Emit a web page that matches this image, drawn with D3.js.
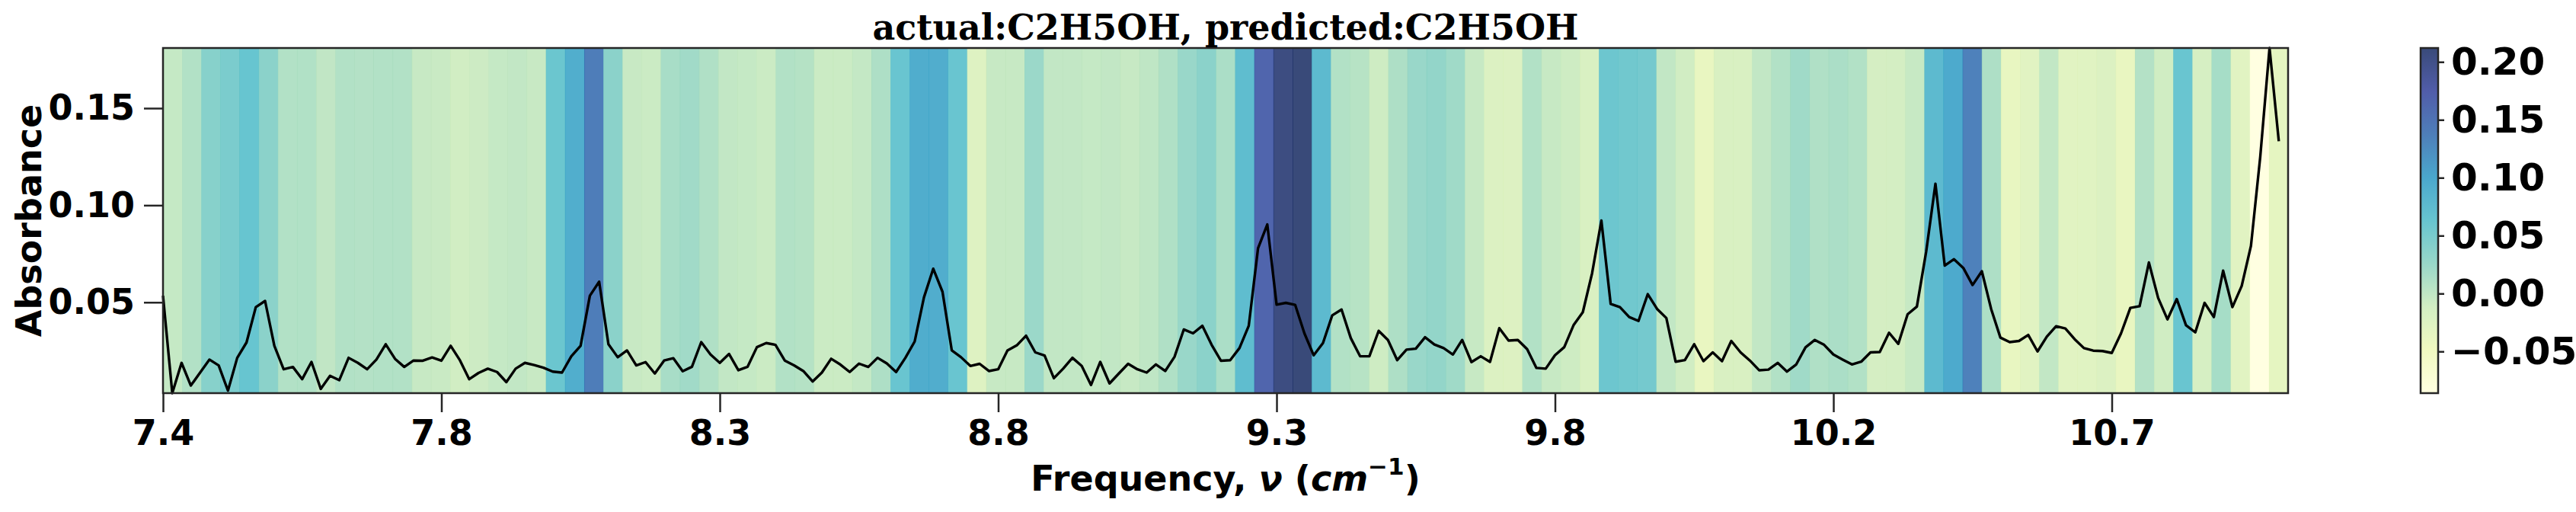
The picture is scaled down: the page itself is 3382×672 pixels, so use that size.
<!DOCTYPE html>
<html>
<head>
<meta charset="utf-8">
<script src="https://cdn.jsdelivr.net/npm/d3@7"></script>
<style>
  body { margin: 0; background: #fff; }
  svg { display: block; }
</style>
</head>
<body>
<svg id="chart" width="3382" height="672"></svg>
<script>
// spectrum (one value per sample)
const absorbance = [
  0.0534, 0.0032, 0.0188, 0.0071, 0.0138, 0.0205, 0.0175, 0.0045, 0.0214, 0.0293,
  0.0475, 0.0507, 0.0276, 0.0155, 0.0167, 0.0104, 0.0193, 0.0054, 0.0121, 0.0099,
  0.0214, 0.0188, 0.0155, 0.0205, 0.0284, 0.0209, 0.0167, 0.0200, 0.0199, 0.0216,
  0.0199, 0.0276, 0.0201, 0.0104, 0.0136, 0.0158, 0.0141, 0.0089, 0.0158, 0.0188,
  0.0177, 0.0163, 0.0143, 0.0138, 0.0222, 0.0276, 0.0534, 0.0606, 0.0284, 0.0217,
  0.0252, 0.0175, 0.0192, 0.0133, 0.0200, 0.0212, 0.0145, 0.0168, 0.0295, 0.0231,
  0.0188, 0.0234, 0.0150, 0.0168, 0.0269, 0.0290, 0.0281, 0.0200, 0.0175, 0.0146,
  0.0092, 0.0138, 0.0209, 0.0179, 0.0141, 0.0184, 0.0167, 0.0214, 0.0185, 0.0141,
  0.0214, 0.0298, 0.0525, 0.0673, 0.0554, 0.0252, 0.0217, 0.0172, 0.0183, 0.0146,
  0.0155, 0.0252, 0.0278, 0.0328, 0.0242, 0.0226, 0.0109, 0.0158, 0.0214, 0.0172,
  0.0074, 0.0193, 0.0082, 0.0133, 0.0183, 0.0155, 0.0138, 0.0180, 0.0146, 0.0219,
  0.0360, 0.0340, 0.0379, 0.0281, 0.0199, 0.0202, 0.0264, 0.0379, 0.0778, 0.0901,
  0.0488, 0.0497, 0.0487, 0.0340, 0.0227, 0.0290, 0.0433, 0.0463, 0.0315, 0.0222,
  0.0222, 0.0353, 0.0306, 0.0202, 0.0256, 0.0261, 0.0320, 0.0283, 0.0264, 0.0231,
  0.0306, 0.0192, 0.0222, 0.0193, 0.0367, 0.0303, 0.0306, 0.0259, 0.0162, 0.0158,
  0.0227, 0.0269, 0.0382, 0.0449, 0.0650, 0.0921, 0.0492, 0.0475, 0.0424, 0.0404,
  0.0542, 0.0466, 0.0419, 0.0194, 0.0202, 0.0284, 0.0197, 0.0242, 0.0197, 0.0301,
  0.0242, 0.0200, 0.0150, 0.0153, 0.0188, 0.0143, 0.0180, 0.0268, 0.0306, 0.0281,
  0.0231, 0.0205, 0.0180, 0.0194, 0.0242, 0.0244, 0.0343, 0.0286, 0.0438, 0.0478,
  0.0761, 0.1111, 0.0689, 0.0722, 0.0677, 0.0589, 0.0660, 0.0466, 0.0318, 0.0295,
  0.0301, 0.0332, 0.0247, 0.0323, 0.0377, 0.0365, 0.0310, 0.0264, 0.0251, 0.0249,
  0.0239, 0.0340, 0.0471, 0.0480, 0.0705, 0.0522, 0.0412, 0.0517, 0.0382, 0.0345,
  0.0497, 0.0424, 0.0663, 0.0475, 0.0584, 0.0791, 0.1249, 0.1810, 0.1330
];

// attribution strip values (heatmap behind the spectrum)
const importance = [
  -0.003, 0.009, 0.039, 0.048, 0.063, 0.036, 0.009, 0.010, 0.000, 0.009,
   0.008, 0.009, 0.009, -0.004, -0.006, -0.011, -0.008, -0.003, -0.001, -0.005,
   0.060, 0.091, 0.138, 0.036, -0.005, -0.007, 0.016, 0.020, 0.011, -0.001,
  -0.003, -0.007, 0.009, 0.007, -0.007, -0.007, -0.002, 0.012, 0.061, 0.093,
   0.092, 0.061, -0.026, -0.004, -0.004, 0.024, -0.001, -0.001, -0.003, -0.001,
  -0.004, 0.001, 0.011, 0.026, 0.036, 0.014, 0.073, 0.166, 0.206, 0.212,
   0.076, 0.009, 0.006, -0.009, 0.012, 0.026, 0.030, 0.021, -0.004, -0.023,
  -0.024, 0.009, -0.004, -0.009, -0.019, 0.059, 0.056, 0.053, -0.001, -0.011,
  -0.040, -0.020, -0.020, -0.001, 0.009, 0.021, 0.011, 0.014, 0.009, -0.014,
  -0.013, -0.004, 0.076, 0.096, 0.135, 0.012, -0.038, -0.029, -0.001, -0.029,
  -0.028, -0.023, -0.040, 0.008, -0.010, 0.061, -0.016, 0.017, -0.030, -0.086,
  -0.034
];

const xTickLabels = ["7.4", "7.8", "8.3", "8.8", "9.3", "9.8", "10.2", "10.7"];
const xTickEvery = 30;
const yTicks = [0.05, 0.10, 0.15];
const cbarTicks = [-0.05, 0.00, 0.05, 0.10, 0.15, 0.20];
const ylgnbu = ["#ffffd9", "#edf8b1", "#c7e9b4", "#7fcdbb", "#41b6c4",
                "#1d91c0", "#225ea8", "#253494", "#081d58"];
const titleText = "actual:C2H5OH, predicted:C2H5OH";

// layout
const plot = { left: 214, right: 3004, top: 63, bottom: 516 };
const cbar = { left: 3178, right: 3201 };
const heatAlpha = 0.8;
const spine = "#262626";

const svg = d3.select("#chart");

const x = d3.scaleLinear()
    .domain([0, absorbance.length])
    .range([plot.left, plot.right]);

const y = d3.scaleLinear()
    .domain(d3.extent(absorbance))
    .range([plot.bottom, plot.top]);

const stripX = d3.scaleLinear()
    .domain([0, importance.length])
    .range([plot.left, plot.right]);

// YlGnBu as matplotlib builds it: 9 evenly spaced stops
const [vmin, vmax] = d3.extent(importance);
const color = d3.scaleLinear()
    .domain(ylgnbu.map((c, i) => vmin + i * (vmax - vmin) / (ylgnbu.length - 1)))
    .range(ylgnbu)
    .interpolate(d3.interpolateRgb);

// heatmap strips
svg.append("g")
  .selectAll("rect")
  .data(importance)
  .join("rect")
    .attr("x", (d, i) => stripX(i))
    .attr("y", plot.top)
    .attr("width", (d, i) => stripX(i + 1) - stripX(i) + 0.5)
    .attr("height", plot.bottom - plot.top)
    .attr("fill", d => color(d))
    .attr("fill-opacity", heatAlpha);

// spectrum line
const line = d3.line()
    .x((d, i) => x(i))
    .y(d => y(d));

svg.append("path")
    .datum(absorbance)
    .attr("fill", "none")
    .attr("stroke", "#000")
    .attr("stroke-width", 3.4)
    .attr("stroke-linejoin", "round")
    .attr("d", line);

// frame
svg.append("rect")
    .attr("x", plot.left)
    .attr("y", plot.top)
    .attr("width", plot.right - plot.left)
    .attr("height", plot.bottom - plot.top)
    .attr("fill", "none")
    .attr("stroke", spine)
    .attr("stroke-width", 2.5);

// axes
const xAxis = d3.axisBottom(x)
    .tickValues(d3.range(0, xTickLabels.length * xTickEvery, xTickEvery))
    .tickFormat((d, i) => xTickLabels[i])
    .tickSize(25)
    .tickPadding(10);

const yAxis = d3.axisLeft(y)
    .tickValues(yTicks)
    .tickFormat(d3.format(".2f"))
    .tickSize(25)
    .tickPadding(12);

function styleAxis(g, size) {
  g.select(".domain").remove();
  g.selectAll(".tick line").attr("stroke", spine).attr("stroke-width", 2.5);
  g.selectAll(".tick text")
      .attr("fill", "#000")
      .style("font-family", "'DejaVu Sans', sans-serif")
      .style("font-weight", "bold")
      .style("font-size", size + "px");
}

svg.append("g")
    .attr("transform", `translate(0,${plot.bottom})`)
    .call(xAxis)
    .call(g => styleAxis(g, 46));

svg.append("g")
    .attr("transform", `translate(${plot.left},0)`)
    .call(yAxis)
    .call(g => styleAxis(g, 46));

// axis titles
svg.append("text")
    .attr("transform", `translate(54,${(plot.top + plot.bottom) / 2}) rotate(-90)`)
    .attr("text-anchor", "middle")
    .style("font-family", "'DejaVu Sans', sans-serif")
    .style("font-weight", "bold")
    .style("font-size", "46px")
    .text("Absorbance");

const xLabel = svg.append("text")
    .attr("x", (plot.left + plot.right) / 2)
    .attr("y", 644)
    .attr("text-anchor", "middle")
    .style("font-family", "'DejaVu Sans', sans-serif")
    .style("font-weight", "bold")
    .style("font-size", "46px");
xLabel.append("tspan").text("Frequency, ");
xLabel.append("tspan").style("font-style", "italic").text("ν");
xLabel.append("tspan").text(" (");
xLabel.append("tspan").style("font-style", "italic").text("cm");
xLabel.append("tspan").attr("dy", -21).style("font-size", "31px").text("−1");
xLabel.append("tspan").attr("dy", 21).text(")");

svg.append("text")
    .attr("x", (plot.left + plot.right) / 2)
    .attr("y", 52)
    .attr("text-anchor", "middle")
    .style("font-family", "'DejaVu Serif', serif")
    .style("font-weight", "bold")
    .style("font-size", "46px")
    .text(titleText);

// colorbar
const cy = d3.scaleLinear()
    .domain([vmin, vmax])
    .range([plot.bottom, plot.top]);

const grad = svg.append("defs").append("linearGradient")
    .attr("id", "cbar-grad")
    .attr("x1", 0).attr("y1", 1).attr("x2", 0).attr("y2", 0);
grad.selectAll("stop")
  .data(ylgnbu)
  .join("stop")
    .attr("offset", (d, i) => i / (ylgnbu.length - 1))
    .attr("stop-color", d => d)
    .attr("stop-opacity", heatAlpha);

svg.append("rect")
    .attr("x", cbar.left)
    .attr("y", plot.top)
    .attr("width", cbar.right - cbar.left)
    .attr("height", plot.bottom - plot.top)
    .attr("fill", "url(#cbar-grad)")
    .attr("stroke", spine)
    .attr("stroke-width", 2.5);

svg.append("g")
    .attr("transform", `translate(${cbar.right},0)`)
    .call(d3.axisRight(cy)
        .tickValues(cbarTicks)
        .tickFormat(d3.format(".2f"))
        .tickSize(8)
        .tickPadding(9))
    .call(g => styleAxis(g, 50));
</script>
</body>
</html>
